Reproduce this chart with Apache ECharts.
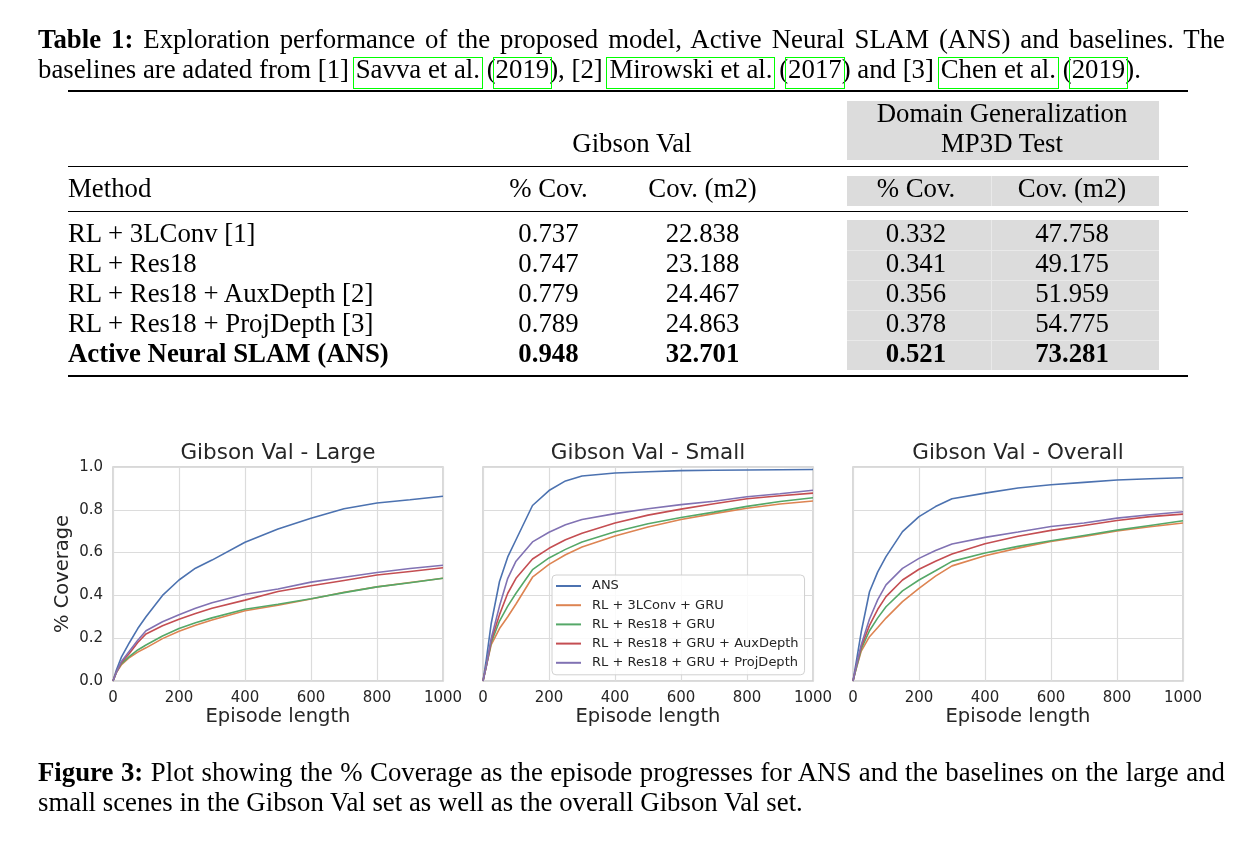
<!DOCTYPE html>
<html><head><meta charset="utf-8">
<script src="https://cdn.jsdelivr.net/npm/echarts@6/dist/echarts.min.js"></script>
<style>
html,body{margin:0;padding:0;background:#fff;}
#page{position:relative;width:1257px;height:845px;overflow:hidden;}
#chart{position:absolute;left:0;top:0;width:1257px;height:845px;}
.t{position:absolute;font-family:"Liberation Serif","Times New Roman",serif;font-size:26.8px;line-height:30px;color:#000;white-space:nowrap;}
.c{text-align:center;width:300px;}
.b{font-weight:bold;}
.rule{position:absolute;background:#000;left:68px;width:1120px;}
.gray{position:absolute;background:#dcdcdc;}
.sep{position:absolute;background:#e9e9e9;}
.lk{position:relative;}
.lk::after{content:"";position:absolute;left:-3px;right:-3px;top:3px;bottom:-5px;border:1.5px solid #00ff00;}
.just{text-align:justify;text-align-last:justify;white-space:normal;}
</style>
</head><body>
<div id="page">
<div id="chart"></div>
<div id="txt"></div>
</div>
<script>
// ---------------- Table data ----------------
const methods = ["RL + 3LConv [1]", "RL + Res18", "RL + Res18 + AuxDepth [2]", "RL + Res18 + ProjDepth [3]", "Active Neural SLAM (ANS)"];
const gibsonCov = ["0.737", "0.747", "0.779", "0.789", "0.948"];
const gibsonArea = ["22.838", "23.188", "24.467", "24.863", "32.701"];
const mp3dCov = ["0.332", "0.341", "0.356", "0.378", "0.521"];
const mp3dArea = ["47.758", "49.175", "51.959", "54.775", "73.281"];

// ---------------- Figure data ----------------
const episodeLength = [0, 10, 25, 50, 75, 100, 150, 200, 250, 300, 400, 500, 600, 700, 800, 900, 1000];
const seriesNames = ["ANS", "RL + 3LConv + GRU", "RL + Res18 + GRU", "RL + Res18 + GRU + AuxDepth", "RL + Res18 + GRU + ProjDepth"];
const panelTitles = ["Gibson Val - Large", "Gibson Val - Small", "Gibson Val - Overall"];
const xTicks = [0, 200, 400, 600, 800, 1000];
const yTicks = [0.0, 0.2, 0.4, 0.6, 0.8, 1.0];

const largeANS      = [0, .05, .11, .18, .245, .30, .40, .472, .527, .565, .648, .71, .761, .805, .832, .847, .863];
const large3LConv   = [0, .04, .075, .11, .135, .155, .198, .232, .26, .285, .328, .354, .383, .415, .44, .46, .48];
const largeRes18    = [0, .04, .08, .115, .145, .168, .21, .245, .272, .295, .335, .359, .384, .413, .44, .459, .48];
const largeAux      = [0, .04, .085, .13, .18, .22, .258, .288, .315, .34, .378, .418, .445, .47, .495, .512, .529];
const largeProj     = [0, .04, .09, .14, .19, .235, .277, .31, .34, .366, .405, .43, .462, .485, .507, .526, .541];

const smallANS      = [0, .10, .27, .465, .58, .66, .82, .89, .935, .958, .972, .978, .983, .985, .986, .987, .988];
const small3LConv   = [0, .07, .17, .245, .30, .36, .485, .545, .59, .626, .678, .72, .755, .782, .807, .827, .841];
const smallRes18    = [0, .07, .18, .28, .35, .41, .52, .575, .615, .65, .697, .735, .764, .789, .816, .839, .856];
const smallAux      = [0, .07, .19, .31, .41, .48, .57, .62, .66, .69, .738, .775, .803, .828, .852, .866, .878];
const smallProj     = [0, .07, .20, .35, .48, .56, .65, .695, .73, .755, .782, .805, .824, .840, .861, .875, .891];

const overallANS    = [0, .09, .23, .417, .51, .581, .698, .768, .815, .852, .878, .902, .917, .928, .939, .945, .95];
const overall3LConv = [0, .06, .14, .207, .25, .294, .371, .433, .49, .538, .585, .621, .652, .676, .701, .721, .738];
const overallRes18  = [0, .06, .15, .235, .295, .347, .421, .472, .515, .559, .598, .629, .655, .68, .705, .727, .749];
const overallAux    = [0, .07, .16, .26, .335, .394, .472, .522, .56, .593, .641, .676, .704, .727, .75, .768, .78];
const overallProj   = [0, .07, .17, .29, .38, .449, .526, .573, .61, .64, .671, .696, .722, .738, .761, .777, .791];

const panels = [
  [largeANS, large3LConv, largeRes18, largeAux, largeProj],
  [smallANS, small3LConv, smallRes18, smallAux, smallProj],
  [overallANS, overall3LConv, overallRes18, overallAux, overallProj]
];

// ---------------- HTML text (table + captions) ----------------
const txt = document.getElementById('txt');
function add(html, cls, left, baseline, extra) {
  const d = document.createElement('div');
  d.className = 't ' + (cls || '');
  d.innerHTML = html;
  d.style.left = left + 'px';
  d.style.top = (baseline - 24) + 'px';
  if (extra) Object.assign(d.style, extra);
  txt.appendChild(d);
  return d;
}
function box(cls, l, t, w, h) {
  const d = document.createElement('div');
  d.className = cls;
  d.style.left = l + 'px'; d.style.top = t + 'px';
  d.style.width = w + 'px'; d.style.height = h + 'px';
  txt.appendChild(d);
}
function center(html, cx, baseline, bold) {
  add(html, 'c' + (bold ? ' b' : ''), cx - 150, baseline);
}
function rule(y, h) {
  const d = document.createElement('div');
  d.className = 'rule'; d.style.top = y + 'px'; d.style.height = h + 'px';
  txt.appendChild(d);
}

// caption
add('<b>Table 1:</b> Exploration performance of the proposed model, Active Neural SLAM (ANS) and baselines. The', 'just', 38, 48, {width: '1187px'});
add('baselines are adated from [1] <span class="lk">Savva et al.</span> (<span class="lk">2019</span>), [2] <span class="lk">Mirowski et al.</span> (<span class="lk">2017</span>) and [3] <span class="lk">Chen et al.</span> (<span class="lk">2019</span>).', '', 38, 78);

// gray shading
box('gray', 847, 101, 312, 59);
box('gray', 847, 176, 312, 30);
box('gray', 847, 220, 312, 150);
[250, 280, 310, 340].forEach(y => box('sep', 847, y, 312, 1));
box('sep', 991, 176, 1, 30);
box('sep', 991, 220, 1, 150);

// rules
rule(90, 2); rule(166, 1.3); rule(211, 1.3); rule(375, 2);

// headers
center('Gibson Val', 632, 151.5);
center('Domain Generalization', 1002, 121.5);
center('MP3D Test', 1002, 151.5);
add('Method', '', 68, 196.5);
center('% Cov.', 548.5, 196.5);
center('Cov. (m2)', 702.5, 196.5);
center('% Cov.', 916, 196.5);
center('Cov. (m2)', 1072, 196.5);

methods.forEach((m, i) => {
  const bl = 241.5 + 30 * i;
  const bold = i === methods.length - 1;
  add(m, bold ? 'b' : '', 68, bl);
  center(gibsonCov[i], 548.5, bl, bold);
  center(gibsonArea[i], 702.5, bl, bold);
  center(mp3dCov[i], 916, bl, bold);
  center(mp3dArea[i], 1072, bl, bold);
});

// figure caption
add('<b>Figure 3:</b> Plot showing the % Coverage as the episode progresses for ANS and the baselines on the large and', 'just', 38, 780.5, {width: '1187px'});
add('small scenes in the Gibson Val set as well as the overall Gibson Val set.', '', 38, 810.5);

// ---------------- ECharts figure ----------------
const colors = ['#4C72B0', '#DD8452', '#55A868', '#C44E52', '#8172B3'];
const font = 'DejaVu Sans';
const txtColor = '#262626';
const gridLefts = [113, 483, 853];
const gridTop = 467, gridW = 330, gridH = 214;

const grids = [], xAxes = [], yAxes = [], series = [], graphics = [];
gridLefts.forEach((gl, i) => {
  grids.push({left: gl, top: gridTop, width: gridW, height: gridH, show: true,
    borderColor: '#cccccc', borderWidth: 1.5, backgroundColor: 'transparent'});
  xAxes.push({gridIndex: i, type: 'value', min: xTicks[0], max: xTicks[xTicks.length - 1], interval: xTicks[1] - xTicks[0],
    axisLine: {show: false}, axisTick: {show: false},
    splitLine: {show: true, lineStyle: {color: '#dcdcdc', width: 1.2}},
    axisLabel: {fontFamily: font, fontSize: 15, color: txtColor, margin: 10, formatter: v => String(v)},
    name: 'Episode length', nameLocation: 'middle', nameGap: 24,
    nameTextStyle: {fontFamily: font, fontSize: 19.5, color: txtColor}});
  yAxes.push({gridIndex: i, type: 'value', min: yTicks[0], max: yTicks[yTicks.length - 1], interval: yTicks[1] - yTicks[0],
    axisLine: {show: false}, axisTick: {show: false},
    splitLine: {show: true, lineStyle: {color: '#dcdcdc', width: 1.2}},
    axisLabel: {show: i === 0, fontFamily: font, fontSize: 15, color: txtColor, margin: 10,
      formatter: v => v.toFixed(1)},
    name: i === 0 ? '% Coverage' : '', nameLocation: 'middle', nameGap: 40, nameRotate: 90,
    nameTextStyle: {fontFamily: font, fontSize: 19.5, color: txtColor}});
  panels[i].forEach((arr, k) => {
    series.push({type: 'line', name: seriesNames[k], xAxisIndex: i, yAxisIndex: i,
      data: episodeLength.map((x, j) => [x, arr[j]]),
      showSymbol: false, symbol: 'none', smooth: false,
      lineStyle: {color: colors[k], width: 1.6}, itemStyle: {color: colors[k]},
      z: 2 + k});
  });
  graphics.push({type: 'text', x: gl + gridW / 2, y: 453,
    style: {text: panelTitles[i], fill: txtColor, font: '21.5px "DejaVu Sans"', textAlign: 'center', textVerticalAlign: 'middle'}});
});

const chart = echarts.init(document.getElementById('chart'), null, {renderer: 'canvas'});
chart.setOption({
  animation: false,
  backgroundColor: 'transparent',
  color: colors,
  grid: grids, xAxis: xAxes, yAxis: yAxes, series: series,
  graphic: graphics,
  legend: {
    data: seriesNames, orient: 'vertical', left: 552, top: 575,
    icon: 'rect', itemWidth: 25, itemHeight: 2, itemGap: 5.2,
    padding: [4, 6, 5, 4],
    borderColor: '#d0d0d0', borderWidth: 1, borderRadius: 4,
    backgroundColor: 'rgba(255,255,255,0.85)',
    textStyle: {fontFamily: font, fontSize: 13, color: txtColor, lineHeight: 14, padding: [0, 0, 0, 6]},
    z: 20
  }
});
</script>
</body></html>
